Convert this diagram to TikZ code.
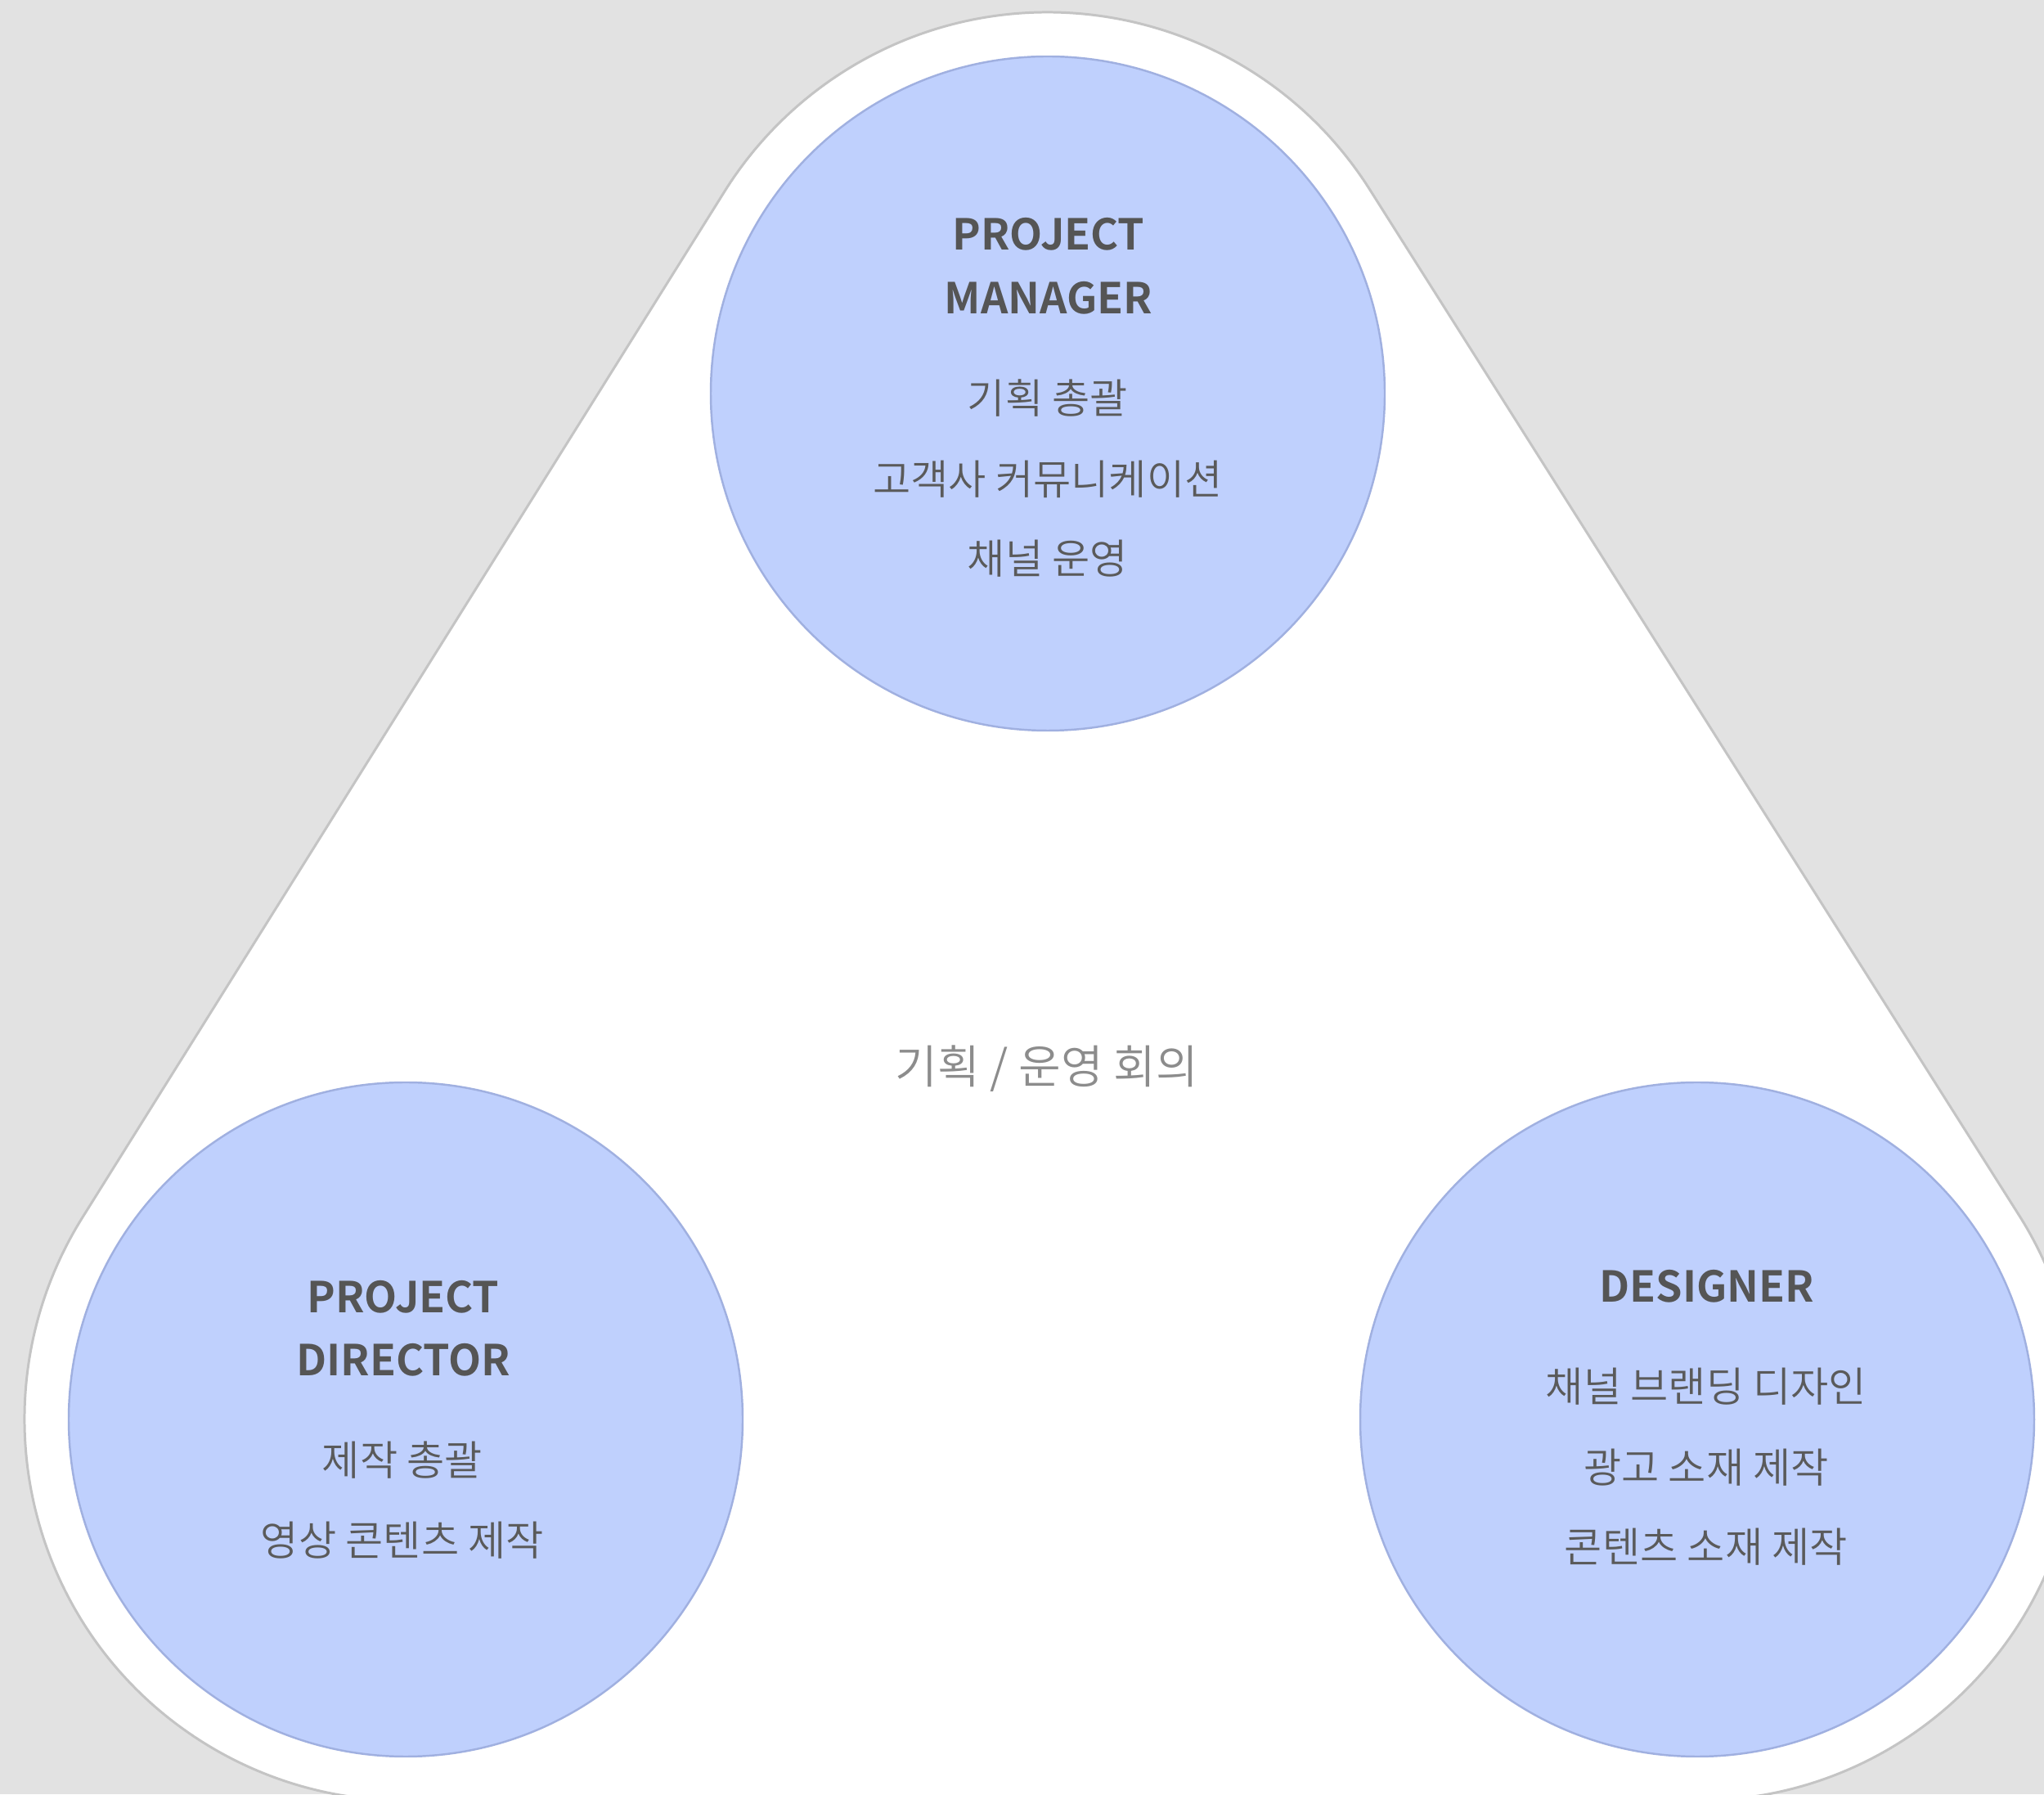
\documentclass[tikz,border=0pt]{standalone}
\usepackage{xcolor}
\usepackage{fontspec}
\usepackage{tikz}
\usetikzlibrary{calc}
\usetikzlibrary{positioning}

\setmainfont{Noto Sans CJK KR}[BoldFont={* Bold}]
\IfFontExistsTF{Noto Sans CJK KR DemiLight}
  {\newfontfamily\taskfont{Noto Sans CJK KR DemiLight}}
  {\newfontfamily\taskfont{Noto Sans CJK KR}}

\definecolor{bggray}{HTML}{E2E2E2}
\definecolor{hullrim}{HTML}{C4C4C4}
\definecolor{rolefill}{HTML}{BFD0FD}
\definecolor{rolerim}{HTML}{A0B0E0}
\definecolor{headgray}{HTML}{555555}
\definecolor{taskgray}{HTML}{5A5A5A}
\definecolor{meetgray}{HTML}{8C8C8C}

\begin{document}
\begin{tikzpicture}[
  role/.style = {circle, draw=rolerim, fill=rolefill, line width=0.7pt, minimum size=8.24cm, inner sep=0pt},
  head/.style = {anchor=base, inner sep=0pt, text=headgray, font=\bfseries\fontsize{14.8}{18}\selectfont},
  task/.style = {anchor=base, inner sep=0pt, text=taskgray, font=\taskfont\fontsize{14.3}{17}\selectfont},
]
\fill [bggray] (0, 0) rectangle (24.99, 21.93);
\clip (0, 0) rectangle (24.99, 21.93);

\coordinate (cT) at (12.81, 17.12);
\coordinate (cL) at (4.96, 4.58);
\coordinate (cR) at (20.75, 4.58);

% rounded triangle behind the circles
\draw [draw=hullrim, fill=white, line width=0.85pt]
  ($(cT)+(32.34:4.66)$) arc [start angle=32.34, end angle=147.95, radius=4.66]
  -- ($(cL)+(147.95:4.66)$) arc [start angle=147.95, end angle=270, radius=4.66]
  -- ($(cR)+(270:4.66)$) arc [start angle=270, end angle=392.34, radius=4.66]
  -- cycle;

\node [role] (PM) at (cT) {};
\node [role] (PD) at (cL) {};
\node [role] (DS) at (cR) {};

\node [head] (PMa) at (12.82, 18.87) {PROJECT};
\node [head] (PMb) at (12.82, 18.09) {MANAGER};
\node [task] (PM1) at (12.81, 16.87) {기획 총괄};
\node [task] (PM2) at (12.81, 15.88) {고객사 커뮤니케이션};
\node [task] (PM3) at (12.81, 14.91) {채널 운영};

\node [head] (PDa) at (4.93, 5.88) {PROJECT};
\node [head] (PDb) at (4.93, 5.11) {DIRECTOR};
\node [task] (PD1) at (4.92, 3.89) {제작 총괄};
\node [task] (PD2) at (4.92, 2.91) {영상 콘텐츠 제작};

\node [head] (DSa) at (20.87, 6.01) {DESIGNER};
\node [task] (DS1) at (20.86, 4.79) {채널 브랜딩 디자인};
\node [task] (DS2) at (20.86, 3.80) {광고 소재 제작};
\node [task] (DS3) at (20.86, 2.83) {콘텐츠 소재 제작};

\node [anchor=base, inner sep=0pt, text=meetgray, font=\taskfont\fontsize{16}{19}\selectfont] (MT) at (12.80, 8.68) {기획 / 운영 회의};
\end{tikzpicture}
\end{document}
